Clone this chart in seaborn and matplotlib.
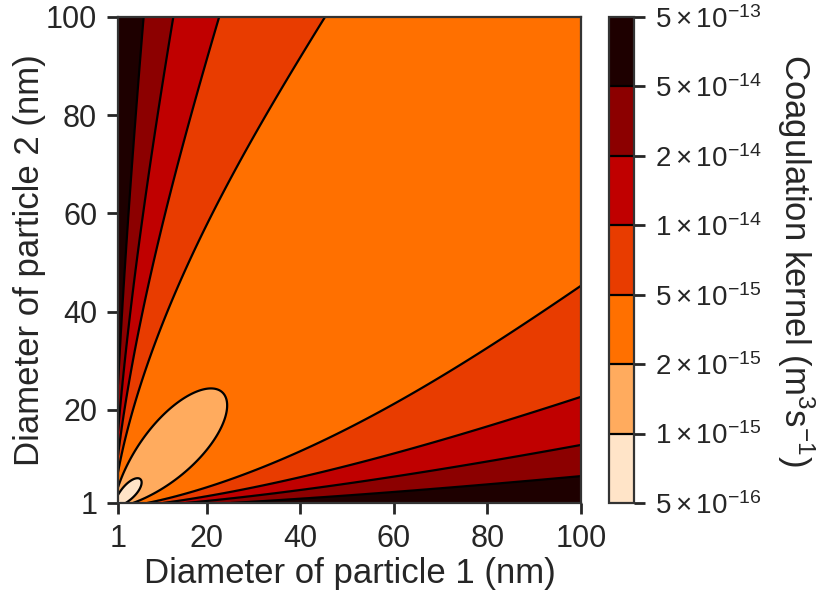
import numpy as np
import matplotlib
matplotlib.use("Agg")
import matplotlib.pyplot as plt
import seaborn as sns

# Particle diameter range (nm) and axis ticks
diam_min_nm = 1.0
diam_max_nm = 100.0
n_grid = 500
axis_ticks = [1, 20, 40, 60, 80, 100]

# Kernel contour levels (m^3 s^-1) and their colorbar labels
kernel_levels = [5e-16, 1e-15, 2e-15, 5e-15, 1e-14, 2e-14, 5e-14, 5e-13]
level_labels = [r"$5\times10^{-16}$", r"$1\times10^{-15}$", r"$2\times10^{-15}$",
                r"$5\times10^{-15}$", r"$1\times10^{-14}$", r"$2\times10^{-14}$",
                r"$5\times10^{-14}$", r"$5\times10^{-13}$"]
band_colors = ["#ffe4c8", "#ffab5e", "#ff7000", "#e83c00",
               "#c00000", "#8c0000", "#1e0000"]

# Gas and particle properties used by the kernel
temperature_K = 298.0
gas_viscosity = 4.2e-6        # kg m^-1 s^-1
mean_free_path = 120e-9       # m
particle_density = 2300.0     # kg m^-3
k_B = 1.380649e-23            # J K^-1


def fuchs_kernel(dp1, dp2):
    """Brownian coagulation kernel, Fuchs interpolation form (m^3 s^-1)."""
    def props(dp):
        kn = 2.0 * mean_free_path / dp
        cc = 1.0 + kn * (1.257 + 0.4 * np.exp(-1.1 / kn))
        diff = k_B * temperature_K * cc / (3.0 * np.pi * gas_viscosity * dp)
        mass = particle_density * np.pi * dp ** 3 / 6.0
        speed = np.sqrt(8.0 * k_B * temperature_K / (np.pi * mass))
        ell = 8.0 * diff / (np.pi * speed)
        g = ((dp + ell) ** 3 - (dp ** 2 + ell ** 2) ** 1.5) / (3.0 * dp * ell) - dp
        return diff, speed, g

    d1, c1, g1 = props(dp1)
    d2, c2, g2 = props(dp2)
    dsum = dp1 + dp2
    dd = d1 + d2
    denom = dsum / (dsum + 2.0 * np.sqrt(g1 ** 2 + g2 ** 2)) \
        + 8.0 * dd / (np.sqrt(c1 ** 2 + c2 ** 2) * dsum)
    return 2.0 * np.pi * dd * dsum / denom


sns.set_theme(style="ticks", context="notebook")
plt.rcParams["font.family"] = ["Liberation Sans", "DejaVu Sans"]
plt.rcParams["mathtext.fontset"] = "custom"
plt.rcParams["mathtext.rm"] = "Liberation Sans"
plt.rcParams["mathtext.it"] = "Liberation Sans:italic"
plt.rcParams["mathtext.bf"] = "Liberation Sans:bold"

text_color = "#262626"
edge_color = "#333333"

diam_nm = np.linspace(diam_min_nm, diam_max_nm, n_grid)
X, Y = np.meshgrid(diam_nm, diam_nm)
K = fuchs_kernel(X * 1e-9, Y * 1e-9)

fig = plt.figure(figsize=(8.26, 6.03), dpi=100)
ax = fig.add_axes([118 / 826, 1 - 503 / 603, 463 / 826, 486 / 603])
cax = fig.add_axes([609 / 826, 1 - 503 / 603, 25 / 826, 486 / 603])

cf = ax.contourf(X, Y, K, levels=kernel_levels, colors=band_colors)
cs = ax.contour(X, Y, K, levels=kernel_levels[1:-1], colors="black", linewidths=1.6)

ax.set_xlim(diam_min_nm, diam_max_nm)
ax.set_ylim(diam_min_nm, diam_max_nm)
ax.set_xticks(axis_ticks)
ax.set_yticks(axis_ticks)
ax.tick_params(axis="both", direction="out", length=8, width=2,
               labelsize=22, colors=text_color, pad=7)
for side in ax.spines.values():
    side.set_visible(True)
    side.set_linewidth(1.6)
    side.set_color(edge_color)
ax.set_xlabel("Diameter of particle 1 (nm)", fontsize=25, color=text_color, labelpad=2)
ax.set_ylabel("Diameter of particle 2 (nm)", fontsize=25, color=text_color, labelpad=0)

cbar = fig.colorbar(cf, cax=cax)
cbar.set_ticks(kernel_levels, labels=level_labels)
cbar.add_lines(cs)
cbar.ax.tick_params(direction="out", length=8, width=2, labelsize=20,
                    colors=text_color, pad=7)
cbar.outline.set_linewidth(1.6)
cbar.outline.set_edgecolor(edge_color)
cbar.set_label(r"Coagulation kernel (m$^3$s$^{-1}$)", rotation=270,
               fontsize=25, color=text_color, labelpad=40)

fig.savefig("out.png", dpi=100)
